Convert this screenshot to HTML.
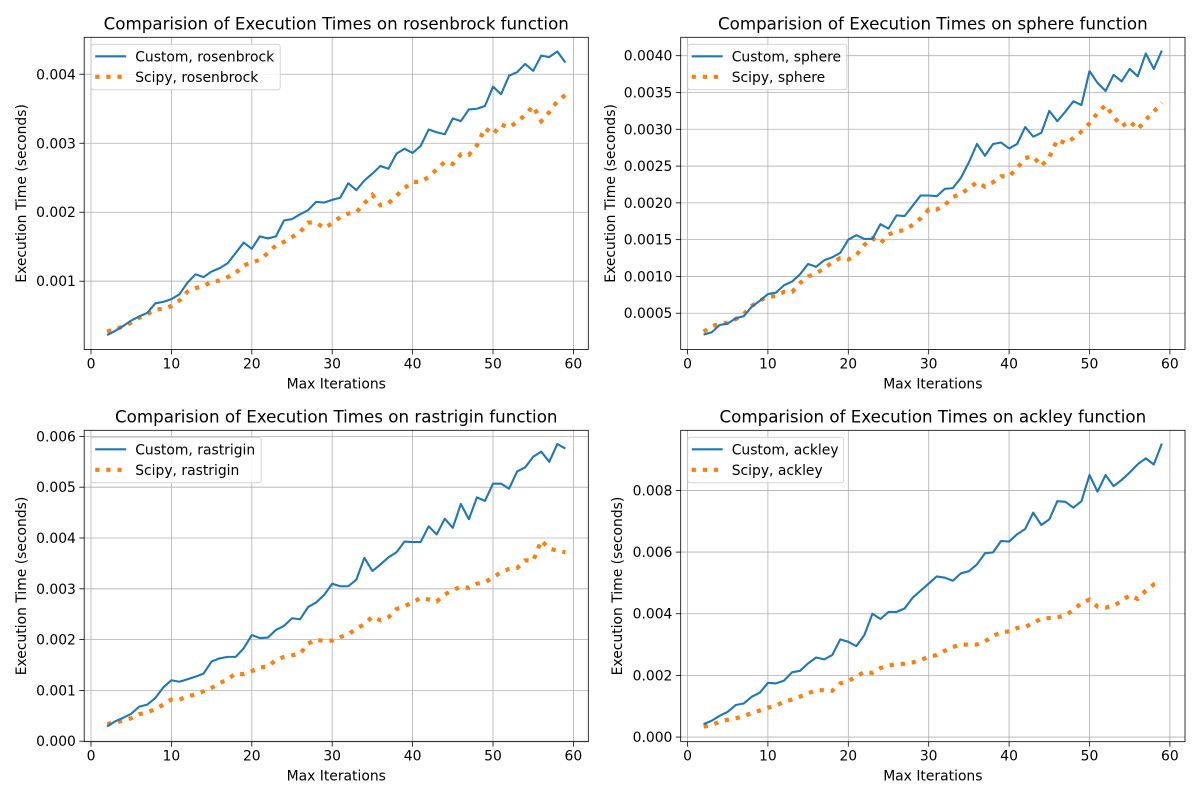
<!DOCTYPE html>
<html><head><meta charset="utf-8"><style>
html,body{margin:0;padding:0;background:#fff;}
svg text{font-family:"DejaVu Sans","Liberation Sans",sans-serif;fill:#000;}
</style></head><body>
<svg id="fig" width="1200" height="800" viewBox="0 0 1200 800" xmlns="http://www.w3.org/2000/svg"></svg>
<script>
const iterations = [];
for (let i = 2; i <= 59; i++) iterations.push(i);
const xTicks = [0, 10, 20, 30, 40, 50, 60];

const rosenCustom = [0.22,0.28,0.35,0.43,0.49,0.54,0.68,0.70,0.74,0.81,0.98,1.10,1.06,1.14,1.19,1.26,1.41,1.56,1.47,1.65,1.62,1.65,1.88,1.90,1.97,2.03,2.15,2.14,2.18,2.21,2.42,2.32,2.46,2.56,2.67,2.63,2.85,2.92,2.86,2.96,3.20,3.16,3.13,3.36,3.32,3.49,3.50,3.54,3.82,3.71,3.98,4.03,4.15,4.05,4.27,4.25,4.33,4.17];
const rosenScipy = [0.27,0.31,0.34,0.40,0.47,0.52,0.59,0.60,0.64,0.72,0.85,0.90,0.93,0.99,1.01,1.06,1.12,1.23,1.27,1.31,1.41,1.52,1.57,1.64,1.71,1.85,1.85,1.77,1.84,1.93,1.98,2.00,2.13,2.25,2.10,2.13,2.24,2.35,2.44,2.44,2.51,2.62,2.73,2.70,2.84,2.83,2.97,3.22,3.13,3.27,3.23,3.31,3.41,3.54,3.32,3.45,3.61,3.70];
const sphereCustom = [0.21,0.24,0.34,0.36,0.43,0.46,0.59,0.67,0.76,0.78,0.88,0.93,1.03,1.17,1.13,1.22,1.26,1.32,1.50,1.56,1.51,1.51,1.71,1.65,1.83,1.82,1.96,2.10,2.10,2.09,2.19,2.20,2.34,2.55,2.80,2.64,2.80,2.82,2.74,2.80,3.03,2.90,2.95,3.25,3.11,3.24,3.38,3.33,3.79,3.63,3.52,3.74,3.65,3.82,3.72,4.03,3.82,4.07];
const sphereScipy = [0.25,0.32,0.36,0.37,0.42,0.49,0.60,0.67,0.73,0.73,0.79,0.79,0.91,1.00,1.04,1.11,1.19,1.25,1.23,1.29,1.43,1.52,1.45,1.57,1.61,1.63,1.70,1.79,1.91,1.91,1.97,2.08,2.12,2.20,2.28,2.22,2.28,2.36,2.36,2.47,2.61,2.63,2.50,2.62,2.86,2.81,2.88,2.97,3.08,3.22,3.33,3.17,3.04,3.11,3.00,3.13,3.24,3.36];
const rastCustom = [0.29,0.39,0.46,0.54,0.68,0.72,0.85,1.06,1.20,1.17,1.22,1.27,1.33,1.57,1.63,1.66,1.66,1.83,2.09,2.03,2.04,2.19,2.27,2.42,2.40,2.64,2.73,2.88,3.10,3.05,3.05,3.18,3.61,3.35,3.48,3.62,3.72,3.93,3.92,3.92,4.23,4.07,4.38,4.20,4.67,4.37,4.80,4.73,5.07,5.07,4.97,5.31,5.39,5.60,5.70,5.50,5.85,5.76];
const rastScipy = [0.34,0.36,0.41,0.45,0.53,0.57,0.63,0.72,0.82,0.82,0.88,0.92,0.98,1.05,1.14,1.22,1.33,1.32,1.38,1.45,1.47,1.60,1.66,1.69,1.72,1.92,2.00,1.97,1.98,2.05,2.10,2.22,2.30,2.45,2.38,2.44,2.60,2.66,2.73,2.82,2.79,2.75,2.89,2.97,3.04,3.02,3.10,3.13,3.22,3.33,3.39,3.41,3.56,3.55,3.95,3.79,3.75,3.72];
const ackCustom = [0.42,0.53,0.69,0.82,1.04,1.09,1.31,1.44,1.76,1.74,1.83,2.10,2.15,2.39,2.58,2.52,2.66,3.17,3.09,2.95,3.31,4.00,3.83,4.06,4.06,4.17,4.52,4.75,4.98,5.21,5.17,5.07,5.31,5.38,5.60,5.96,5.99,6.36,6.34,6.58,6.75,7.28,6.88,7.06,7.65,7.63,7.44,7.65,8.50,7.96,8.50,8.14,8.34,8.58,8.85,9.04,8.84,9.52];
const ackScipy = [0.34,0.39,0.50,0.56,0.61,0.68,0.78,0.86,0.95,1.03,1.14,1.22,1.31,1.42,1.52,1.52,1.50,1.74,1.82,1.96,2.12,2.08,2.24,2.32,2.36,2.38,2.42,2.50,2.60,2.66,2.80,2.92,3.01,2.99,3.00,3.10,3.28,3.40,3.43,3.54,3.57,3.70,3.84,3.86,3.88,3.95,4.12,4.35,4.46,4.23,4.20,4.25,4.42,4.60,4.48,4.75,4.95,5.00];

const rosenTicks = [1,2,3,4];
const rosenTickLabels = ["0.001","0.002","0.003","0.004"];
const sphereTicks = [0.5,1.0,1.5,2.0,2.5,3.0,3.5,4.0];
const sphereTickLabels = ["0.0005","0.0010","0.0015","0.0020","0.0025","0.0030","0.0035","0.0040"];
const rastTicks = [0,1,2,3,4,5,6];
const rastTickLabels = ["0.000","0.001","0.002","0.003","0.004","0.005","0.006"];
const ackTicks = [0,2,4,6,8];
const ackTickLabels = ["0.000","0.002","0.004","0.006","0.008"];

const NS = "http://www.w3.org/2000/svg";
const fig = document.getElementById('fig');
function mk(tag, attrs, parent){
  const e = document.createElementNS(NS, tag);
  for (const k in attrs) e.setAttribute(k, attrs[k]);
  (parent||fig).appendChild(e);
  return e;
}

const panels = [
  {name:'rosenbrock', L:84.2, R:588.3, T:37.3, B:349.5, x0:91, ymin:0.01, ymax:4.536, custom:rosenCustom, scipy:rosenScipy, ticks:rosenTicks, labels:rosenTickLabels, ylabX:22, legW:189},
  {name:'sphere', L:680.7, R:1185, T:37.3, B:349.5, x0:687.5, ymin:0.007, ymax:4.25, custom:sphereCustom, scipy:sphereScipy, ticks:sphereTicks, labels:sphereTickLabels, ylabX:611, legW:159},
  {name:'rastrigin', L:84.2, R:588.3, T:430.3, B:741.7, x0:91, ymin:-0.01, ymax:6.12, custom:rastCustom, scipy:rastScipy, ticks:rastTicks, labels:rastTickLabels, ylabX:22, legW:170},
  {name:'ackley', L:680.7, R:1185, T:430.3, B:741.7, x0:687.5, ymin:-0.15, ymax:9.95, custom:ackCustom, scipy:ackScipy, ticks:ackTicks, labels:ackTickLabels, ylabX:618, legW:156}
];

panels.forEach(p => {
  const g = mk('g', {});
  
  
  const xs = v => p.x0 + v * 8.04;
  const ys = v => p.B - (v - p.ymin) / (p.ymax - p.ymin) * (p.B - p.T);
  // grid
  xTicks.forEach(t => {
    const l = mk('line', {x1:xs(t), x2:xs(t), y1:p.T, y2:p.B, stroke:'#b0b0b0', 'stroke-width':0.8}, g);
    
    
    const tk = mk('line', {x1:xs(t), x2:xs(t), y1:p.B, y2:p.B+4.9, stroke:'#000', 'stroke-width':0.8}, g);
    
    
    const tx = mk('text', {x:xs(t), y:p.B+19, 'text-anchor':'middle', 'font-size':'13.9px'}, g);
    tx.textContent = t;
    
    
  });
  p.ticks.forEach((t, i) => {
    const l = mk('line', {x1:p.L, x2:p.R, y1:ys(t), y2:ys(t), stroke:'#b0b0b0', 'stroke-width':0.8}, g);
    
    
    const tk = mk('line', {x1:p.L-4.9, x2:p.L, y1:ys(t), y2:ys(t), stroke:'#000', 'stroke-width':0.8}, g);
    
    
    const tx = mk('text', {x:p.L-8.3, y:ys(t)+5, 'text-anchor':'end', 'font-size':'13.9px'}, g);
    tx.textContent = p.labels[i];
    
    
  });
  // series
  const dC = p.custom.map((v,i) => (i?'L':'M') + xs(iterations[i]).toFixed(2) + ',' + ys(v).toFixed(2)).join('');
  const dS = p.scipy.map((v,i) => (i?'L':'M') + xs(iterations[i]).toFixed(2) + ',' + ys(v).toFixed(2)).join('');
  const ps = mk('path', {d:dS, fill:'none', stroke:'#ff7f0e', 'stroke-width':4.2, 'stroke-dasharray':'4.2 6.9', 'stroke-linecap':'butt'}, g);
  
  
  const pc = mk('path', {d:dC, fill:'none', stroke:'#1f77b4', 'stroke-width':2.1, 'stroke-linejoin':'round'}, g);
  
  
  // frame
  const fr = mk('rect', {x:p.L, y:p.T, width:p.R-p.L, height:p.B-p.T, fill:'none', stroke:'#000', 'stroke-width':0.8}, g);
  
  
  // title
  const ti = mk('text', {x:(p.L+p.R)/2, y:p.T-8, 'text-anchor':'middle', 'font-size':'16.7px'}, g);
  ti.textContent = 'Comparision of Execution Times on ' + p.name + ' function';
  
  
  const xl = mk('text', {x:(p.L+p.R)/2, y:p.B+39, 'text-anchor':'middle', 'font-size':'13.9px'}, g);
  xl.textContent = 'Max Iterations';
  
  
  const yc = (p.T+p.B)/2;
  const yl = mk('text', {x:p.ylabX, y:yc, 'text-anchor':'middle', 'font-size':'13.9px', transform:'rotate(-90 '+p.ylabX+' '+yc+')', 'dominant-baseline':'central'}, g);
  yl.textContent = 'Execution Time (seconds)';
  
  
  // legend
  const lg = mk('g', {}, g);
  
  
  const lx = p.L + 7, ly = p.T + 7;
  mk('rect', {x:lx, y:ly, width:p.legW, height:45.5, rx:2.5, fill:'#fff', 'fill-opacity':0.8, stroke:'#cccccc', 'stroke-width':0.8}, lg);
  const e1 = mk('g', {}, lg);
  
  
  mk('line', {x1:lx+4, x2:lx+35, y1:ly+12, y2:ly+12, stroke:'#1f77b4', 'stroke-width':2.1}, e1);
  const t1 = mk('text', {x:lx+44, y:ly+17, 'font-size':'13.9px'}, e1);
  t1.textContent = 'Custom, ' + p.name;
  const e2 = mk('g', {}, lg);
  
  
  mk('line', {x1:lx+4, x2:lx+35, y1:ly+32.5, y2:ly+32.5, stroke:'#ff7f0e', 'stroke-width':4.2, 'stroke-dasharray':'4.2 6.9'}, e2);
  const t2 = mk('text', {x:lx+44, y:ly+37.5, 'font-size':'13.9px'}, e2);
  t2.textContent = 'Scipy, ' + p.name;
});
</script>
</body></html>
